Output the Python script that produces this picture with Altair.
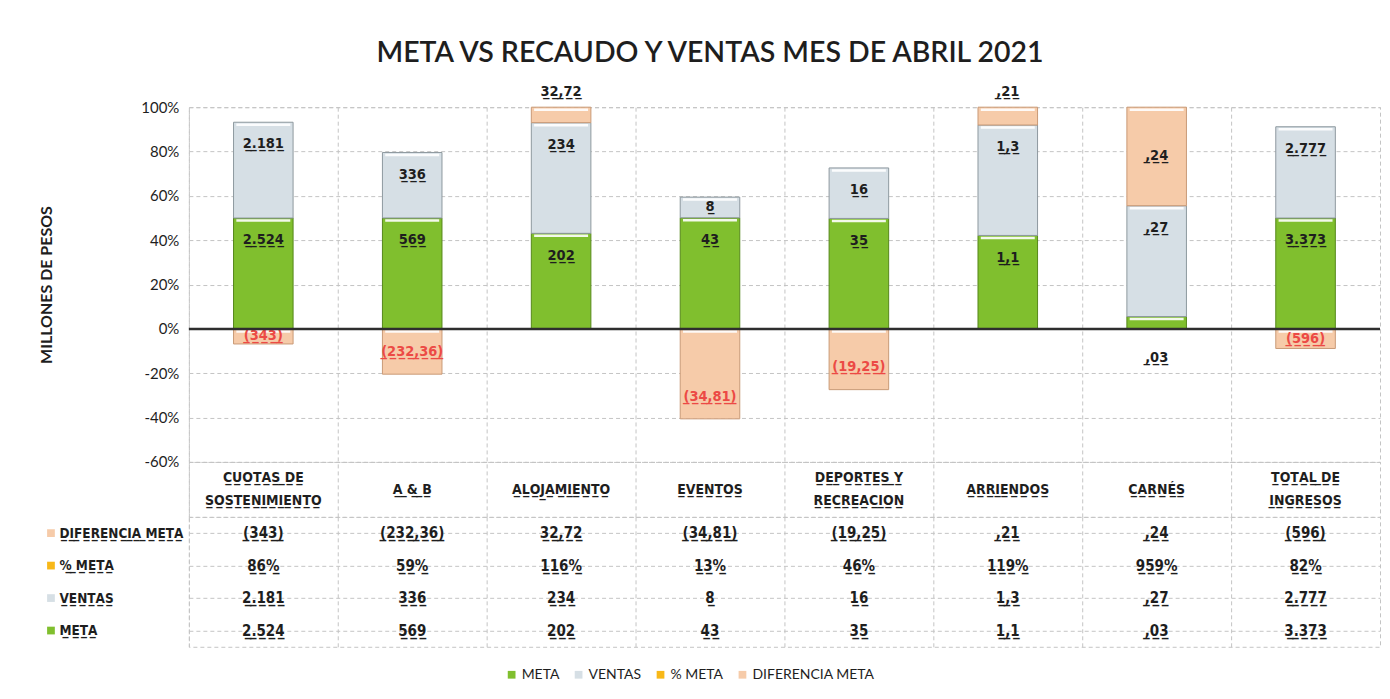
import textwrap
import altair as alt
import pandas as pd

# ---------------- data ----------------
CATEGORIES = ["CUOTAS DE SOSTENIMIENTO", "A & B", "ALOJAMIENTO", "EVENTOS",
              "DEPORTES Y RECREACION", "ARRIENDOS", "CARNÉS", "TOTAL DE INGRESOS"]
META = [2524, 569, 202, 43, 35, 1.1, 0.03, 3373]
VENTAS = [2181, 336, 234, 8, 16, 1.3, 0.27, 2777]
DIF_META = [-343, -232.36, 32.72, -34.81, -19.25, 0.21, 0.24, -596]
PCT_META = [0.86, 0.59, 1.16, 0.13, 0.46, 1.19, 9.59, 0.82]

SERIES = ["META", "VENTAS", "% META", "DIFERENCIA META"]
TABLE_ROWS = ["DIFERENCIA META", "% META", "VENTAS", "META"]
Y_TICKS = [-0.6, -0.4, -0.2, 0.0, 0.2, 0.4, 0.6, 0.8, 1.0]

# ---------------- style ----------------
COLORS = ["#80bf2e", "#d6dfe5", "#f8b818", "#f6cba9"]
EDGES = ["#55881a", "#8e999f", "#c99000", "#c99a76"]
FONT = "Lato"
F_UL = "DejaVu Sans Condensed, DejaVu Sans"   # fonts that place the combining underline
INK = "#1e1e1e"
RED = "#ec4a45"
GRID = "#c4c4c4"
UL = "\u0332"


def ul(s):
    return "".join(c if c == "\n" else c + UL for c in s)


def fmt(v):
    neg = v < 0
    a = abs(v)
    if a == int(a):
        s = f"{int(a):,}".replace(",", ".")
    else:
        ip, dp = repr(a).split(".")
        ip = "" if ip == "0" else f"{int(ip):,}".replace(",", ".")
        s = ip + "," + dp
    return f"({s})" if neg else s


def pct(p):
    return f"{round(p * 100)}%"


# ---------------- tables for the library ----------------
bar_rows = []
for i, c in enumerate(CATEGORIES):
    for k, (name, vals) in enumerate([("META", META), ("VENTAS", VENTAS), ("DIFERENCIA META", DIF_META)]):
        bar_rows.append({"cat": c, "serie": name, "v": vals[i], "order": k, "lbl": ul(fmt(vals[i]))})
bars_df = pd.DataFrame(bar_rows)

hdr_df = pd.DataFrame({"cat": CATEGORIES,
                       "hdr": [ul("\n".join(textwrap.wrap(c, 13))) for c in CATEGORIES]})

row_values = {"DIFERENCIA META": [fmt(v) for v in DIF_META],
              "% META": [pct(p) for p in PCT_META],
              "VENTAS": [fmt(v) for v in VENTAS],
              "META": [fmt(v) for v in META]}
tbl_rows = []
for r in TABLE_ROWS:
    for i, c in enumerate(CATEGORIES):
        tbl_rows.append({"cat": c, "row": ul(r), "serie": r, "txt": ul(row_values[r][i])})
tbl_df = pd.DataFrame(tbl_rows)

# ---------------- shared encodings ----------------
x_enc = alt.X("cat:N", sort=CATEGORIES,
              scale=alt.Scale(paddingInner=0, paddingOuter=0),
              axis=alt.Axis(title=None, labels=False, ticks=False, domain=False,
                            grid=True, bandPosition=0, gridColor=GRID, gridDash=[4, 3]))
y_scale = alt.Scale(domain=[-0.6, 1.0], nice=False, zero=False)
color_enc = alt.Color("serie:N", scale=alt.Scale(domain=SERIES, range=COLORS),
                      legend=alt.Legend(orient="none", direction="horizontal",
                                        legendX=316, legendY=561, title=None,
                                        symbolType="square", symbolSize=60,
                                        symbolStrokeWidth=0,
                                        labelFont=FONT, labelFontSize=14,
                                        labelColor=INK, columnPadding=12,
                                        labelOffset=3))

# ---------------- top: stacked (share of total) bars ----------------
base = (alt.Chart(bars_df)
        .transform_calculate(av="abs(datum.v)")
        .transform_joinaggregate(tot="sum(av)", groupby=["cat"])
        .transform_calculate(f="datum.v / datum.tot")
        .transform_stack(stack="f", groupby=["cat"], as_=["y0", "y1"],
                         sort=[alt.SortField("order", order="ascending")])
        .transform_calculate(lo="min(datum.y0, datum.y1)", hi="max(datum.y0, datum.y1)")
        .transform_calculate(mid="(datum.lo + datum.hi) / 2", h="datum.hi - datum.lo")
        .transform_calculate(ly=(
            "datum.serie === 'META' ? (datum.h < 0.1 ? datum.lo - 0.13 : max(datum.hi - 0.1, datum.mid))"
            " : datum.serie === 'VENTAS' ? max(datum.hi - 0.1, datum.mid)"
            " : datum.v < 0 ? min(datum.lo + 0.1, datum.mid)"
            " : (datum.h < 0.1 ? datum.hi + 0.07 : datum.mid)")))

bars = base.mark_bar(width=alt.RelativeBandSize(0.4), strokeWidth=1).encode(
    x=x_enc,
    y=alt.Y("y0:Q", scale=y_scale,
            axis=alt.Axis(values=Y_TICKS, format=".0%",
                          labelExpr="replace(datum.label, '\u2212', '-')",
                          title="MILLONES DE PESOS", titleFont=FONT, titleFontSize=16,
                          titleFontWeight="bold", titleColor=INK, titlePadding=86,
                          labelFont=FONT, labelFontSize=15, labelColor=INK,
                          labelPadding=10, ticks=False, domain=False,
                          grid=True, gridColor=GRID, gridDash=[4, 3])),
    y2="y1:Q",
    color=color_enc,
    stroke=alt.Stroke("serie:N", scale=alt.Scale(domain=SERIES, range=EDGES), legend=None),
)

# white bevel highlight at the top of each segment
shine = base.mark_tick(color="white", thickness=2.5, size=54, yOffset=2.5, opacity=0.9).encode(
    x=x_enc, y=alt.Y("hi:Q", scale=y_scale))

labels = base.mark_text(font=F_UL, fontSize=14.5, fontWeight="bold", baseline="middle").encode(
    x=x_enc,
    y=alt.Y("ly:Q", scale=y_scale),
    text="lbl:N",
    color=alt.condition("datum.v < 0", alt.value(RED), alt.value(INK)),
)

zero = alt.Chart(pd.DataFrame({"zero": [0]})).mark_rule(color="#2e2e2e", strokeWidth=2.5).encode(
    y=alt.Y("zero:Q", scale=y_scale))

top = alt.layer(bars, shine, labels, zero).properties(width=1192, height=355)

# ---------------- category header row ----------------
hdr_mark = dict(font=F_UL, fontSize=14, fontWeight="bold", lineBreak="\n",
                lineHeight=23, baseline="middle", color=INK)
hdr_two = alt.Chart(hdr_df).transform_filter("indexof(datum.hdr, '\\n') >= 0").mark_text(
    **hdr_mark).encode(x=x_enc, y=alt.value(16), text="hdr:N")
hdr_one = alt.Chart(hdr_df).transform_filter("indexof(datum.hdr, '\\n') < 0").mark_text(
    **hdr_mark).encode(x=x_enc, y=alt.value(28), text="hdr:N")
header = alt.layer(hdr_two, hdr_one).properties(width=1192, height=55)

# ---------------- data table ----------------
row_sort = [ul(r) for r in TABLE_ROWS]
y_tbl = alt.Y("row:N", sort=row_sort, scale=alt.Scale(paddingInner=0, paddingOuter=0),
              axis=alt.Axis(title=None, labelAlign="left", labelPadding=130,
                            labelFont=F_UL, labelFontSize=13.5, labelFontWeight="bold",
                            labelColor=INK, ticks=False, domain=False,
                            grid=True, bandPosition=0, gridColor=GRID, gridDash=[4, 3]))
table_text = alt.Chart(tbl_df).mark_text(font=F_UL, fontSize=15, fontWeight="bold",
                                          baseline="middle", color=INK).encode(
    x=x_enc, y=y_tbl, text="txt:N")
icons = alt.Chart(tbl_df).transform_filter(
    alt.datum.cat == CATEGORIES[0]).mark_square(size=60, opacity=1).encode(
    x=alt.value(-138), y=alt.Y("row:N", sort=row_sort), color=color_enc)
table = alt.layer(table_text, icons).properties(width=1192, height=130)

chart = (alt.vconcat(top, header, table, spacing=0, bounds="flush")
         .resolve_scale(color="shared", x="shared")
         .properties(title=alt.Title("META VS RECAUDO Y VENTAS MES DE ABRIL 2021",
                                     font=FONT, fontSize=28.5, fontWeight=600, color=INK,
                                     anchor="middle", offset=16),
                     padding={"left": 30, "top": 30, "right": 0, "bottom": 5},
                     background="white")
         .configure_view(stroke=GRID, strokeDash=[4, 3]))

chart.save("out.html", embed_options={"renderer": "svg", "actions": False})
